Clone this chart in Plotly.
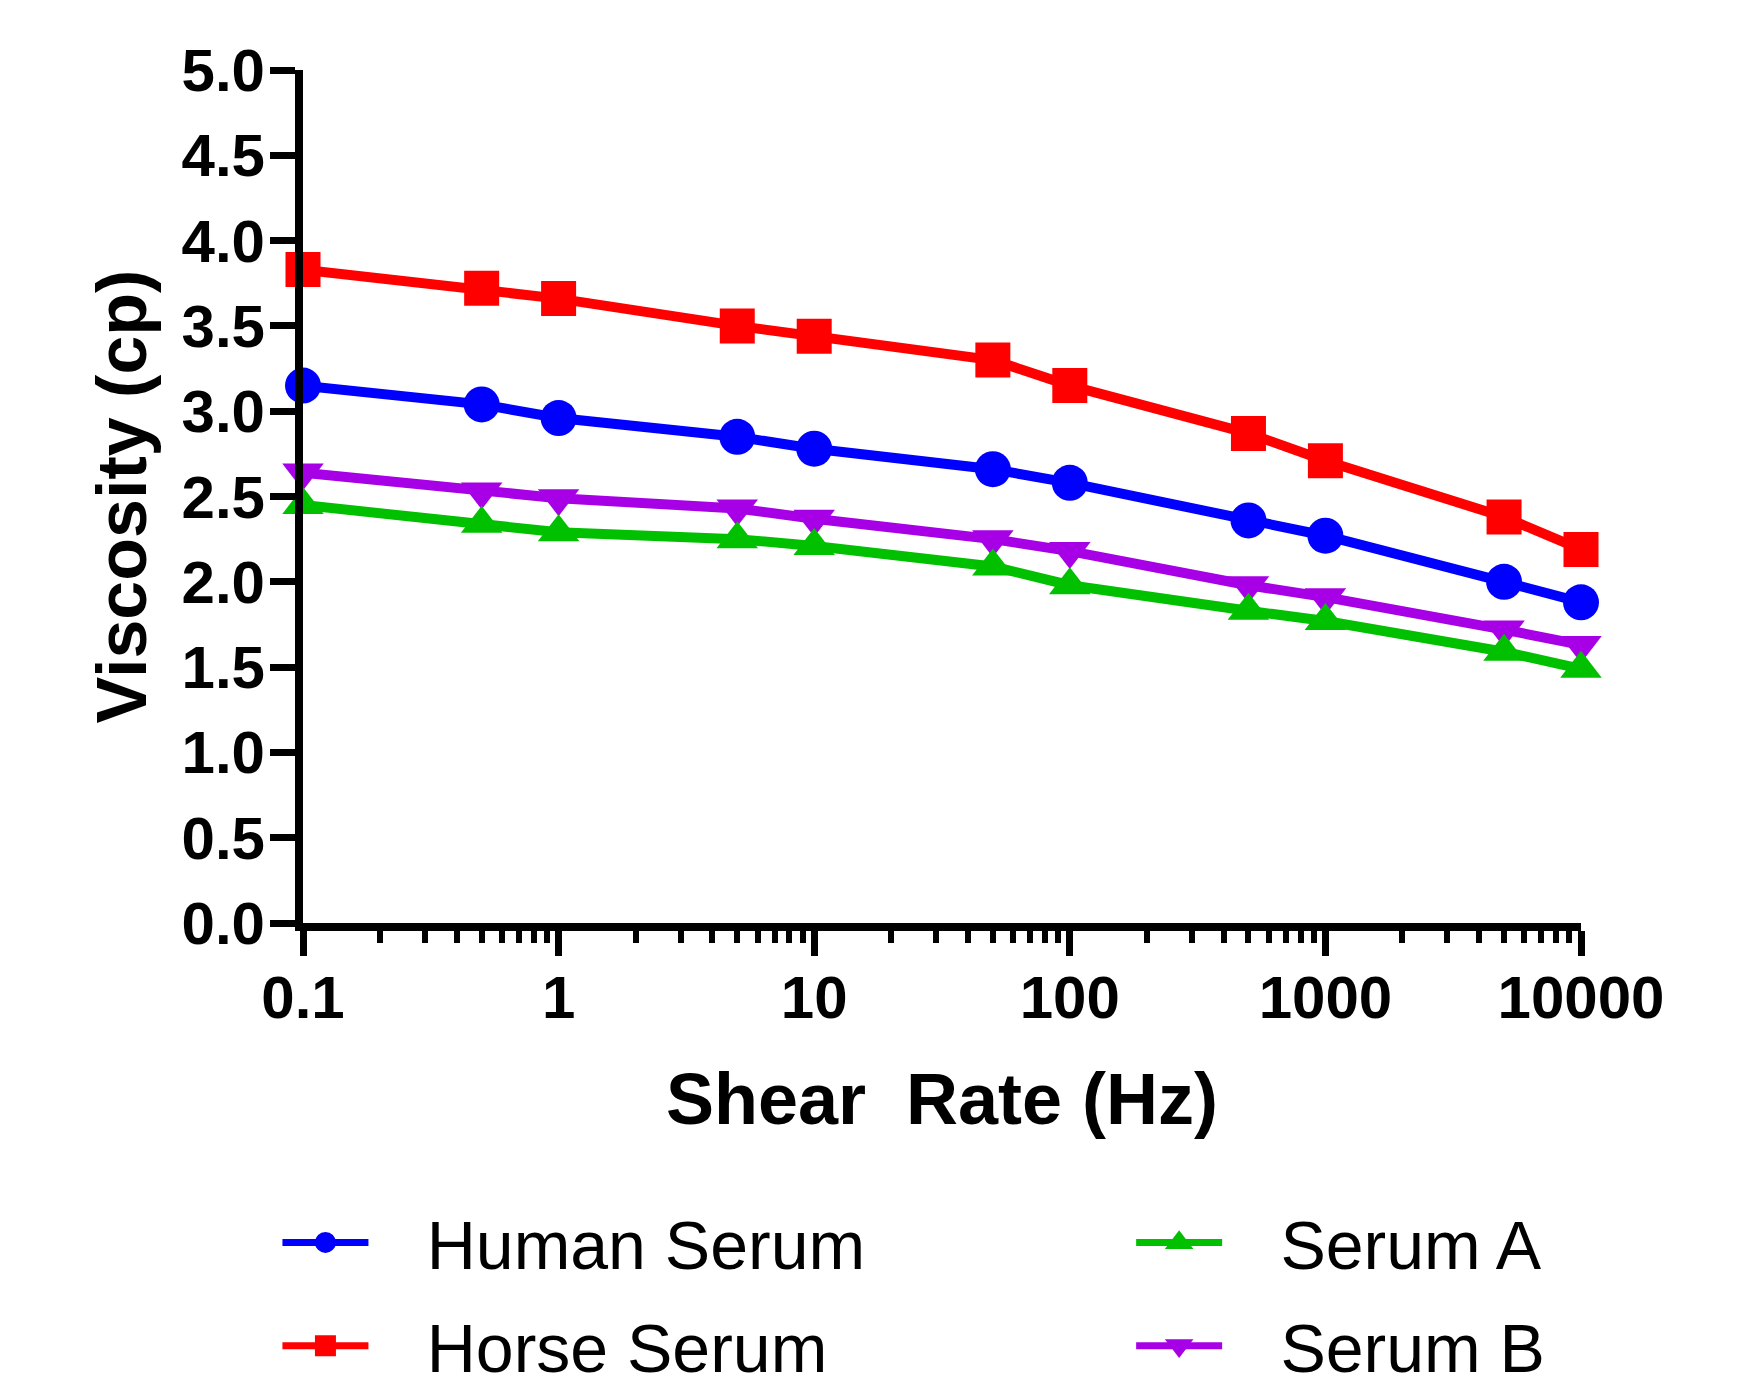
import plotly.graph_objects as go

shear_rate = [0.1, 0.5, 1, 5, 10, 50, 100, 500, 1000, 5000, 10000]
human_serum = [3.15, 3.04, 2.96, 2.85, 2.78, 2.66, 2.58, 2.36, 2.27, 2.00, 1.88]
horse_serum = [3.83, 3.72, 3.66, 3.50, 3.44, 3.30, 3.15, 2.87, 2.71, 2.38, 2.19]
serum_a = [2.45, 2.34, 2.29, 2.25, 2.21, 2.09, 1.98, 1.83, 1.77, 1.59, 1.49]
serum_b = [2.64, 2.53, 2.49, 2.43, 2.37, 2.25, 2.18, 1.98, 1.91, 1.72, 1.63]

x_tickvals = [0.1, 1, 10, 100, 1000, 10000]
x_ticktext = ["0.1", "1", "10", "100", "1000", "10000"]
y_tickvals = [0.0, 0.5, 1.0, 1.5, 2.0, 2.5, 3.0, 3.5, 4.0, 4.5, 5.0]

minor_vals = [m * 10 ** e for e in range(-1, 4) for m in range(2, 10)]

FONT = "Liberation Sans, Arial, sans-serif"
PAD = "\u2002\u2009\u200a"

series = [
    ("Serum B", serum_b, "#A800E6", "triangle-down", 36, "legend2", 4),
    ("Serum A", serum_a, "#00C000", "triangle-up", 36, "legend2", 3),
    ("Human Serum", human_serum, "#0000FF", "circle", 36, "legend", 1),
    ("Horse Serum", horse_serum, "#FF0000", "square", 35, "legend", 2),
]

fig = go.Figure()
for name, vals, color, sym, size, leg, rank in series:
    fig.add_trace(go.Scatter(
        x=shear_rate, y=vals, name=name, mode="lines+markers",
        line=dict(color=color, width=10),
        marker=dict(symbol=sym, size=size, color=color, line=dict(width=0)),
        cliponaxis=False, showlegend=False, legendgroup=name,
    ))
# legend-only entries (no data) so the legend swatch can use a thinner line
for name, vals, color, sym, size, leg, rank in series:
    fig.add_trace(go.Scatter(
        x=[None], y=[None], name=PAD + name, mode="lines+markers",
        line=dict(color=color, width=7),
        marker=dict(symbol=sym, size=16, color=color,
                    line=dict(width=5, color=color)),
        legend=leg, legendrank=rank, legendgroup=name, hoverinfo="skip",
    ))

fig.update_layout(
    width=1751, height=1382,
    margin=dict(l=295, r=178, t=62, b=467, autoexpand=False),
    paper_bgcolor="white", plot_bgcolor="white",
    font=dict(family=FONT, color="black"),
    xaxis=dict(
        type="log", range=[-1, 4],
        tickvals=x_tickvals, ticktext=x_ticktext,
        ticks="outside", ticklen=25, tickwidth=7, tickcolor="black",
        showline=True, linewidth=8, linecolor="black",
        showgrid=False, zeroline=False, ticklabelstandoff=-10,
        tickfont=dict(size=60, family=FONT, weight="bold"),
        minor=dict(tickvals=minor_vals, ticks="outside", ticklen=12, tickwidth=6,
                   tickcolor="black", showgrid=False),
        title=dict(text="Shear\u00a0 Rate (Hz)", standoff=47,
                   font=dict(size=72, family=FONT, weight="bold")),
    ),
    yaxis=dict(
        range=[0, 5], tickvals=y_tickvals, tickformat=".1f",
        ticks="outside", ticklen=25, tickwidth=7, tickcolor="black",
        showline=True, linewidth=8, linecolor="black",
        showgrid=False, zeroline=False, ticklabelstandoff=-7,
        tickfont=dict(size=60, family=FONT, weight="bold"),
        title=dict(text="Viscosity (cp)", standoff=15,
                   font=dict(size=70, family=FONT, weight="bold")),
    ),
    legend=dict(x=-0.02, y=-0.315, xanchor="left", yanchor="top",
                orientation="v", itemwidth=86, tracegroupgap=12,
                font=dict(size=68, family=FONT), bgcolor="rgba(0,0,0,0)"),
    legend2=dict(x=0.648, y=-0.315, xanchor="left", yanchor="top",
                 orientation="v", itemwidth=86, tracegroupgap=12,
                 font=dict(size=68, family=FONT), bgcolor="rgba(0,0,0,0)"),
    showlegend=True,
)

fig.write_html("out.html")
